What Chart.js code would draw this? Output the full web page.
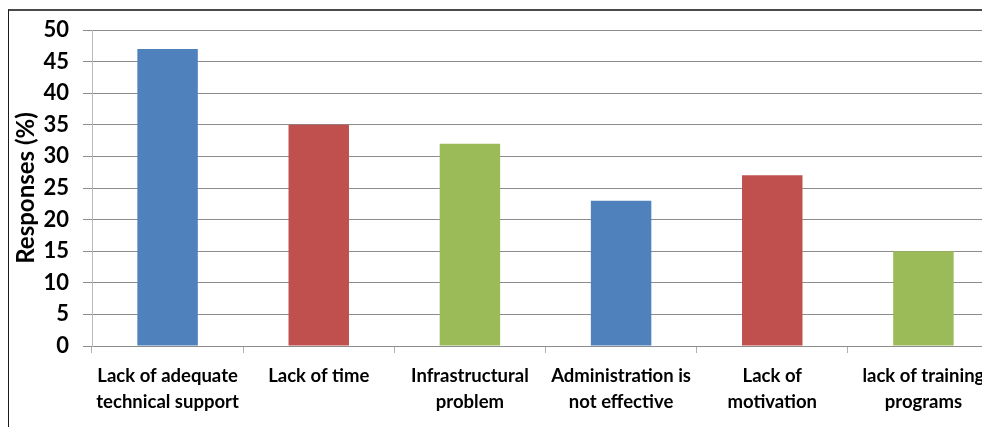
<!DOCTYPE html>
<html>
<head>
<meta charset="utf-8">
<script src="https://cdn.jsdelivr.net/npm/chart.js@4.4.1/dist/chart.umd.min.js"></script>
<style>
  html, body { margin: 0; padding: 0; background: #fff; overflow: hidden; width: 982px; height: 427px; }
  #frame {
    position: absolute; left: 8px; top: 9px;
    width: 1010px; height: 440px;
    border-left: 1px solid #1a1a1a; border-top: 2px solid #4a4a4a;
  }
  #wrap { position: absolute; left: 0; top: 0; width: 1010px; height: 440px; }
</style>
</head>
<body>
<div id="frame"><div id="wrap"><canvas id="chart"></canvas></div></div>
<script>
const categories = [
  ['Lack of adequate', 'technical support'],
  ['Lack of time'],
  ['Infrastructural', 'problem'],
  ['Administration is', 'not effective'],
  ['Lack of', 'motivation'],
  ['lack of training', 'programs']
];
const responses = [47, 35, 32, 23, 27, 15];
const barColors = ['#4F81BD', '#C0504D', '#9BBB59', '#4F81BD', '#C0504D', '#9BBB59'];
const yTicks = [0, 5, 10, 15, 20, 25, 30, 35, 40, 45, 50];

const FONT = 'Lato, "Open Sans", sans-serif';

new Chart(document.getElementById('chart'), {
  type: 'bar',
  data: {
    labels: categories,
    datasets: [{
      data: responses,
      backgroundColor: barColors,
      borderWidth: 0,
      categoryPercentage: 0.4,
      barPercentage: 1.0
    }]
  },
  options: {
    responsive: true,
    maintainAspectRatio: false,
    animation: false,
    devicePixelRatio: 1,
    layout: { padding: { top: 19, right: 20, left: 0, bottom: 0 } },
    plugins: { legend: { display: false }, tooltip: { enabled: false } },
    scales: {
      x: {
        grid: { display: true, drawOnChartArea: false, drawTicks: true, tickLength: 7, color: '#b0b0b0', offset: true },
        border: { display: true, color: '#8c8c8c', width: 1 },
        ticks: {
          color: '#000', maxRotation: 0, autoSkip: false, padding: 10,
          font: { family: FONT, size: 18.5, weight: 'bold', lineHeight: '26px' }
        },
        afterFit(scale) { scale.height = 105; scale.paddingLeft = 0; scale.paddingRight = 0; }
      },
      y: {
        min: 0, max: 50,
        afterBuildTicks(scale) { scale.ticks = yTicks.map(v => ({ value: v })); },
        grid: { color: '#8c8c8c', lineWidth: 1, tickLength: 9 },
        border: { display: true, color: '#b8b8b8', width: 1 },
        ticks: {
          color: '#000', padding: 14,
          font: { family: FONT, size: 22, weight: 'bold' }
        },
        title: {
          display: true, text: 'Responses (%)', color: '#000',
          padding: { top: 3, bottom: 0 },
          font: { family: FONT, size: 24, weight: 'bold' }
        },
        afterFit(scale) { scale.width = 83; scale.paddingTop = 0; scale.paddingBottom = 0; }
      }
    }
  }
});
</script>
</body>
</html>
